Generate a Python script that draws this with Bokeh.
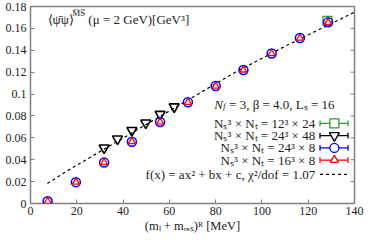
from bokeh.plotting import figure
from bokeh.models import Label, FixedTicker, Range1d
from bokeh.embed import file_html
from bokeh.resources import INLINE

# ---- data ----
mass_8 = [7.4, 19.6, 31.8, 43.8, 56.0, 68.0, 80.0, 92.0, 104.2, 116.4, 128.6]
pbp_24x8 = [0.0020, 0.0195, 0.0375, 0.0565, 0.0744, 0.0925, 0.1073, 0.1220, 0.1370, 0.1512, 0.1655]
pbp_16x8 = [0.0020, 0.0195, 0.0375, 0.0565, 0.0744, 0.0925, 0.1073, 0.1220, 0.1370, 0.1512, 0.1655]
mass_48 = [31.8, 37.6, 43.8, 49.8, 56.0, 62.1]
pbp_24x48 = [0.0508, 0.0590, 0.0668, 0.0736, 0.0815, 0.0884]
mass_24 = [128.3]
pbp_12x24 = [0.1668]
fit_x = [7.3, 16.4, 50.0, 88.7, 110.6, 140.0]
fit_y = [0.0183, 0.0305, 0.0722, 0.1202, 0.1443, 0.1748]

x_ticks = [0, 20, 40, 60, 80, 100, 120, 140]
y_ticks = [0, 0.02, 0.04, 0.06, 0.08, 0.1, 0.12, 0.14, 0.16, 0.18]
y_tick_labels = ["0", "0.02", "0.04", "0.06", "0.08", "0.1", "0.12", "0.14", "0.16", "0.18"]

legend_labels = ["N\u209b\u00b3 \u00d7 N\u209c = 12\u00b3 \u00d7 24",
                 "N\u209b\u00b3 \u00d7 N\u209c = 24\u00b3 \u00d7 48",
                 "N\u209b\u00b3 \u00d7 N\u209c = 24\u00b3 \u00d7 8",
                 "N\u209b\u00b3 \u00d7 N\u209c = 16\u00b3 \u00d7 8",
                 "f(x) = ax\u00b2 + bx + c, \u03c7\u00b2/dof = 1.07"]

FONT = "Liberation Serif"
GRAY = "#808080"
TXT = "#222222"

p = figure(width=365, height=235, output_backend="svg", toolbar_location=None,
           x_range=Range1d(0, 140), y_range=Range1d(0, 0.18),
           min_border_left=30, min_border_right=11, min_border_top=6, min_border_bottom=26)
p.grid.visible = False
p.outline_line_color = GRAY
p.outline_line_width = 1.5
p.background_fill_color = "white"
p.border_fill_color = "white"

for ax in (p.xaxis[0], p.yaxis[0]):
    ax.axis_line_color = None
    ax.major_tick_in = 4
    ax.major_tick_out = 0
    ax.minor_tick_line_color = None
    ax.major_tick_line_color = GRAY
    ax.major_label_text_font = FONT
    ax.major_label_text_font_size = "12px"
    ax.major_label_text_color = TXT
    ax.major_label_standoff = 4

p.xaxis[0].major_label_standoff = 3
p.xaxis[0].ticker = FixedTicker(ticks=x_ticks)
p.yaxis[0].ticker = FixedTicker(ticks=y_ticks)
p.yaxis[0].major_label_overrides = {t: l for t, l in zip(y_ticks, y_tick_labels)}
p.xaxis[0].axis_label = "(m\u2097 + m\u1d63\u2091\u209b)\u1d3f [MeV]"
p.xaxis[0].axis_label_text_font = FONT
p.xaxis[0].axis_label_text_font_size = "12.5px"
p.xaxis[0].axis_label_text_font_style = "normal"
p.xaxis[0].axis_label_text_color = TXT
p.xaxis[0].axis_label_standoff = 1

# inward ticks on the right edge of the frame (no labels there)
tick_len = 4 / 2.314
p.segment(x0=[140 - tick_len] * len(y_ticks), y0=y_ticks, x1=[140] * len(y_ticks), y1=y_ticks,
          line_color=GRAY, line_width=1)

# ---- data glyphs ----
p.line(fit_x, fit_y, line_color="black", line_dash="3 3", line_width=1.2)
p.scatter(mass_24, pbp_12x24, marker="square", size=9, fill_color=None,
          line_color="#2ca02c", line_width=1.3)
p.scatter(mass_48, pbp_24x48, marker="inverted_triangle", size=10, fill_color=None,
          line_color="black", line_width=1.6)
p.scatter(mass_8, pbp_24x8, marker="circle", size=9, fill_color=None,
          line_color="#0000ff", line_width=1.5)
p.scatter(mass_8, pbp_16x8, marker="triangle", size=7, fill_color="white",
          line_color="#ff0000", line_width=1.3)

# ---- hand-made legend (glyph sample to the right of the text) ----
LX0, LX1, LXC, LXT = 125.1, 137.2, 131.3, 123.0
ROW_Y = [0.0732, 0.0621, 0.0508, 0.0397, 0.0267]
CAP = 0.0026
leg_colors = ["#2ca02c", "black", "#0000ff", "#ff0000"]
leg_markers = ["square", "inverted_triangle", "circle", "triangle"]
leg_sizes = [9, 10, 9, 8]
for c, m, s, yy in zip(leg_colors, leg_markers, leg_sizes, ROW_Y[:4]):
    p.segment(x0=[LX0, LX0, LX1], y0=[yy, yy - CAP, yy - CAP],
              x1=[LX1, LX0, LX1], y1=[yy, yy + CAP, yy + CAP],
              line_color=c, line_width=1.3)
    p.scatter([LXC], [yy], marker=m, size=s, fill_color="white", line_color=c, line_width=1.3)
p.segment(x0=[LX0], y0=[ROW_Y[4]], x1=[LX1], y1=[ROW_Y[4]],
          line_color="black", line_dash="3 3", line_width=1.2)

# ---- texts ----
def lab(text, x, y, size="13px", align="left", style="normal"):
    p.add_layout(Label(x=x, y=y, text=text, text_font=FONT, text_font_size=size,
                       text_align=align, text_baseline="middle", text_color=TXT,
                       text_font_style=style))

lab("\u27e8\u03c8\u0304\u03c8\u27e9", 7.35, 0.168)
lab("M\u0305S\u0305", 18.0, 0.1738, size="9px")
lab("(\u03bc = 2 GeV)[GeV\u00b3]", 25.0, 0.168)

lab("N", 79.4, 0.0909, style="italic")
lab("f", 83.2, 0.0887, size="9px", style="italic")
lab("= 3, \u03b2 = 4.0, L\u209b = 16", 85.8, 0.0909)

for t, yy in zip(legend_labels, ROW_Y):
    lab(t, LXT, yy, align="right")

open("out.html", "w").write(file_html(p, INLINE))
